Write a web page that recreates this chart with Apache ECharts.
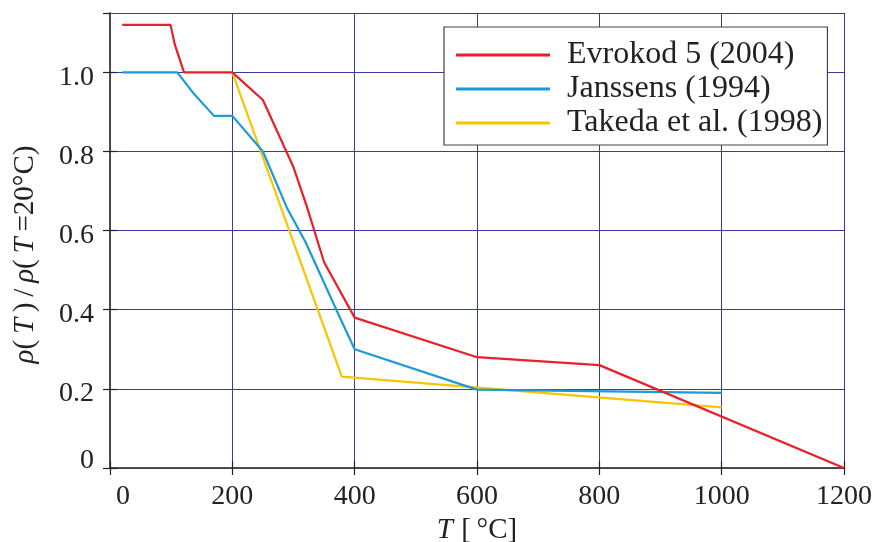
<!DOCTYPE html>
<html>
<head>
<meta charset="utf-8">
<script src="https://cdn.jsdelivr.net/npm/echarts@6/dist/echarts.min.js"></script>
<style>
html,body{margin:0;padding:0;background:#fff;}
#c{width:872px;height:542px;}
</style>
</head>
<body>
<div id="c"></div>
<script>
// Data: [T (°C), rho(T)/rho(20°C)]
var seriesNames = ['Evrokod 5 (2004)', 'Janssens (1994)', 'Takeda et al. (1998)'];
var evrokod = [[20,1.12],[99,1.12],[106,1.07],[121,1.0],[200,1.0],[250,0.93],[300,0.76],[322,0.66],[350,0.52],[400,0.38],[590,0.285],[600,0.28],[800,0.26],[1200,0]];
var janssens = [[20,1.0],[110,1.0],[136,0.948],[170,0.89],[200,0.89],[250,0.80],[290,0.655],[320,0.57],[370,0.40],[387,0.343],[400,0.30],[600,0.198],[1000,0.19]];
var takeda = [[200,1.0],[379,0.231],[1000,0.153]];
var xTicks = [0,200,400,600,800,1000,1200];
var yTicks = [0,0.2,0.4,0.6,0.8,1.0];

var serif = '"Liberation Serif","DejaVu Serif",serif';
var chart = echarts.init(document.getElementById('c'));
var gridColor = '#3b3b9e';
var frame = '#444';
var tickStyle = {show:true, inside:true, length:7, lineStyle:{color:'#222', width:1.2}};
var ts = '\u2009';

chart.setOption({
  animation:false,
  backgroundColor:'#fff',
  grid:{left:110, right:28, top:13, bottom:74, containLabel:false, outerBoundsMode:'none'},
  legend:{
    orient:'vertical', left:444, top:27,
    backgroundColor:'#fff', borderColor:'#444', borderWidth:1.2,
    padding:[12,5,6,12], itemGap:2,
    icon:'rect', itemWidth:94, itemHeight:3,
    textStyle:{fontFamily:serif, fontSize:32, color:'#222', padding:[0,0,0,12]},
    data:seriesNames
  },
  xAxis:[{
    type:'value', min:0, max:1200, interval:200,
    name:'{i|T} [' + ts + '°C]', nameLocation:'middle', nameGap:45,
    nameTextStyle:{fontFamily:serif, fontSize:29, color:'#222', rich:{i:{fontFamily:serif, fontSize:29, fontStyle:'italic', color:'#222', padding:[0,1,0,0]}}},
    axisLine:{show:true, lineStyle:{color:frame, width:1.5}},
    axisTick:tickStyle,
    splitLine:{show:true, lineStyle:{color:gridColor, width:1}},
    axisLabel:{fontFamily:serif, fontSize:28, color:'#222', margin:15,
      formatter:function(v){ return v===0 ? '{z|0}' : String(v); },
      rich:{z:{fontFamily:serif, fontSize:28, color:'#222', padding:[0,0,0,26]}}}
  },{
    type:'value', position:'top', min:0, max:1200, interval:200,
    axisLine:{show:true, lineStyle:{color:frame, width:1.5}},
    axisTick:tickStyle, axisLabel:{show:false}, splitLine:{show:false}
  }],
  yAxis:[{
    type:'value', min:0, max:1.15, interval:0.2,
    name:'{i|ρ}(' + ts + '{i|T}' + ts + ')' + ts + '/' + ts + '{i|ρ}(' + ts + '{i|T}' + ts + '=20°C)',
    nameLocation:'middle', nameGap:70, nameRotate:90,
    nameTextStyle:{fontFamily:serif, fontSize:29, color:'#222', padding:[0,28,0,0], rich:{i:{fontFamily:serif, fontSize:29, fontStyle:'italic', color:'#222'}}},
    axisLine:{show:true, lineStyle:{color:frame, width:1.5}},
    axisTick:tickStyle,
    splitLine:{show:true, lineStyle:{color:gridColor, width:1}},
    axisLabel:{fontFamily:serif, fontSize:28, color:'#222', margin:16, showMaxLabel:false,
      formatter:function(v){ return v===0 ? '{z|0}' : '{n|' + v.toFixed(1) + '}'; },
      rich:{z:{fontFamily:serif, fontSize:28, color:'#222', padding:[0,0,14,0]},
            n:{fontFamily:serif, fontSize:28, color:'#222', padding:[10,0,0,0]}}}
  },{
    type:'value', position:'right', min:0, max:1.15, interval:0.2,
    axisLine:{show:true, lineStyle:{color:frame, width:1.5}},
    axisTick:tickStyle, axisLabel:{show:false}, splitLine:{show:false}
  }],
  series:[
    {name:seriesNames[0], type:'line', data:evrokod, showSymbol:false, symbol:'none', lineStyle:{color:'#e8202a', width:2.2}, itemStyle:{color:'#e8202a'}, z:5},
    {name:seriesNames[1], type:'line', data:janssens, showSymbol:false, symbol:'none', lineStyle:{color:'#1a9ad6', width:2.2}, itemStyle:{color:'#1a9ad6'}, z:4},
    {name:seriesNames[2], type:'line', data:takeda, showSymbol:false, symbol:'none', lineStyle:{color:'#f7c600', width:2.2}, itemStyle:{color:'#f7c600'}, z:3}
  ]
});
</script>
</body>
</html>
